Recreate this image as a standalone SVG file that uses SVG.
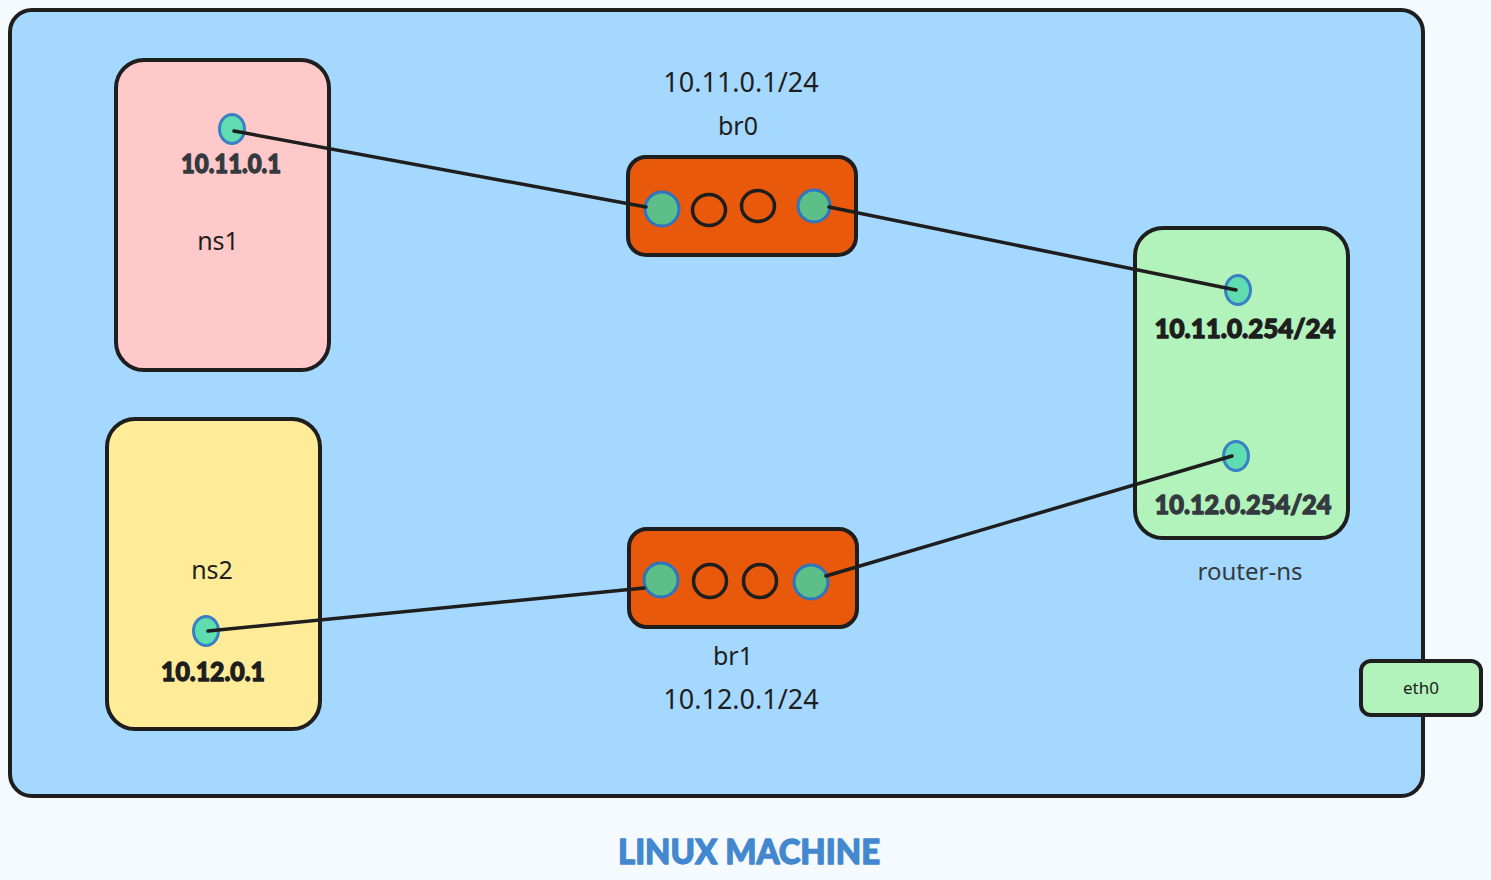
<svg xmlns="http://www.w3.org/2000/svg" width="1491" height="880" viewBox="0 0 1491 880">
<style>
.box{stroke:#1e1e1e;stroke-width:4;stroke-linejoin:round}
.lbl{font-family:"Noto Sans","Open Sans",sans-serif;fill:#1e1e1e;text-anchor:middle}
.ip{font-family:Lato,"Noto Sans",sans-serif;font-weight:900;text-anchor:middle;stroke-width:1.3;stroke-linejoin:round}
.port{fill:#5cbf87;stroke:#2f74c0;stroke-width:3}
.hole{fill:none;stroke:#1e1e1e;stroke-width:3.5}
.dot{fill:#5fdcb0;stroke:#3a7ec6;stroke-width:3}
.wire{fill:none;stroke:#1e1e1e;stroke-width:3.5;stroke-linecap:round}
</style>
<rect x="0" y="0" width="1491" height="880" fill="#f5faff"/>
<g id="linux-machine">
<rect class="box" x="10" y="10" width="1413" height="786" rx="22" fill="#a5d8ff"/>
<text x="749" y="864" class="ip" font-size="35" fill="#4388cf" stroke="#4388cf" textLength="262" lengthAdjust="spacingAndGlyphs">LINUX MACHINE</text>
</g>
<g id="ns1">
<rect class="box" x="116" y="60" width="213" height="310" rx="28" fill="#ffc9c9"/>
<text x="218" y="250" class="lbl" font-size="25">ns1</text>
<ellipse class="dot" cx="232" cy="129" rx="12.5" ry="14.5"/>
<text x="231" y="173" class="ip" font-size="26" fill="#343a40" stroke="#343a40" textLength="100" lengthAdjust="spacingAndGlyphs">10.11.0.1</text>
</g>
<g id="ns2">
<rect class="box" x="107" y="419" width="213" height="310" rx="28" fill="#ffec99"/>
<text x="212" y="579" class="lbl" font-size="25">ns2</text>
<ellipse class="dot" cx="206" cy="631" rx="12.5" ry="14.5"/>
<text x="213" y="681" class="ip" font-size="26" fill="#1e1e1e" stroke="#1e1e1e" textLength="104" lengthAdjust="spacingAndGlyphs">10.12.0.1</text>
</g>
<g id="router-ns">
<rect class="box" x="1135" y="228" width="213" height="310" rx="28" fill="#b2f2bb"/>
<ellipse class="dot" cx="1238" cy="290" rx="12.5" ry="14.5"/>
<ellipse class="dot" cx="1236" cy="456" rx="12.5" ry="14.5"/>
<text x="1245" y="338" class="ip" font-size="26" fill="#1e1e1e" stroke="#1e1e1e" textLength="181" lengthAdjust="spacingAndGlyphs">10.11.0.254/24</text>
<text x="1243" y="514" class="ip" font-size="26" fill="#343a40" stroke="#343a40" textLength="177" lengthAdjust="spacingAndGlyphs">10.12.0.254/24</text>
<text x="1250" y="580" class="lbl" font-size="24" style="fill:#343a40">router-ns</text>
</g>
<g id="eth0">
<rect class="box" x="1361" y="661" width="120" height="54" rx="10" fill="#b2f2bb"/>
<text x="1421" y="694" class="lbl" font-size="17">eth0</text>
</g>
<g id="br0">
<text x="741" y="92" class="lbl" font-size="27">10.11.0.1/24</text>
<text x="738" y="135" class="lbl" font-size="25">br0</text>
<rect class="box" x="628" y="157" width="228" height="98" rx="18" fill="#e8590c"/>
<circle class="port" cx="662" cy="209" r="17"/>
<ellipse class="hole" cx="709" cy="210" rx="16.5" ry="15.5"/>
<ellipse class="hole" cx="758" cy="206" rx="16.5" ry="15.5"/>
<circle class="port" cx="814" cy="206" r="16"/>
</g>
<g id="br1">
<rect class="box" x="629" y="529" width="228" height="98" rx="18" fill="#e8590c"/>
<circle class="port" cx="661" cy="580" r="17"/>
<circle class="hole" cx="710" cy="581" r="16.5"/>
<circle class="hole" cx="760" cy="581" r="16.5"/>
<circle class="port" cx="811" cy="582" r="17"/>
<text x="733" y="665" class="lbl" font-size="25">br1</text>
<text x="741" y="709" class="lbl" font-size="27">10.12.0.1/24</text>
</g>
<g id="connectors">
<path class="wire" d="M234 131 L646 207"/>
<path class="wire" d="M829 207 L1236 290"/>
<path class="wire" d="M208 631 L644 588"/>
<path class="wire" d="M826 576 L1232 456"/>
</g>
</svg>
